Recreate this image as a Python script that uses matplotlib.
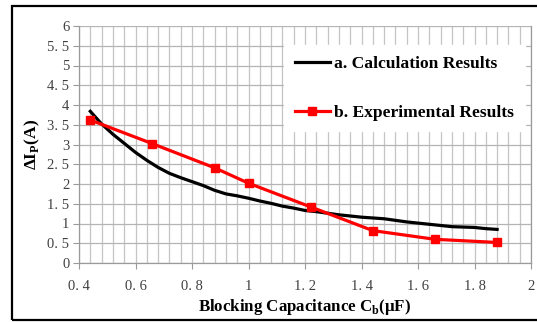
import matplotlib.pyplot as plt
from matplotlib.ticker import MultipleLocator, FuncFormatter
from matplotlib.patches import Rectangle

plt.rcParams['font.family'] = ['Liberation Serif', 'DejaVu Serif']
plt.rcParams['mathtext.fontset'] = 'custom'
plt.rcParams['mathtext.rm'] = 'Liberation Serif:bold'
plt.rcParams['mathtext.bf'] = 'Liberation Serif:bold'

# calculated curve
calc_x = [0.44, 0.48, 0.52, 0.56, 0.60, 0.64, 0.68, 0.72, 0.76, 0.80,
          0.84, 0.88, 0.92, 0.96, 1.00, 1.04, 1.08, 1.12, 1.16, 1.20,
          1.24, 1.28, 1.32, 1.36, 1.40, 1.44, 1.48, 1.52, 1.56, 1.60,
          1.64, 1.68, 1.72, 1.76, 1.80, 1.84, 1.88]
calc_y = [3.84, 3.52, 3.26, 3.03, 2.80, 2.60, 2.42, 2.27, 2.16, 2.06,
          1.96, 1.84, 1.75, 1.70, 1.64, 1.57, 1.51, 1.44, 1.39, 1.33,
          1.30, 1.26, 1.22, 1.19, 1.16, 1.14, 1.12, 1.08, 1.04, 1.01,
          0.98, 0.95, 0.92, 0.91, 0.90, 0.87, 0.85]

# measured points
exp_x = [0.44, 0.66, 0.88, 1.00, 1.22, 1.44, 1.66, 1.88]
exp_y = [3.62, 3.02, 2.41, 2.02, 1.42, 0.82, 0.60, 0.52]

fig = plt.figure(figsize=(5.37, 3.22), dpi=100)
fig.patches.append(Rectangle((12 / 537, 2 / 322), 540 / 537, 314 / 322,
                             transform=fig.transFigure, fill=False,
                             edgecolor='black', linewidth=1.6))

ax = fig.add_axes([79 / 537, 59 / 322, 452 / 537, 237 / 322])
ax.plot(calc_x, calc_y, color='black', linewidth=2.3,
        label='a. Calculation Results', zorder=3)
ax.plot(exp_x, exp_y, color='#ff0000', linewidth=2.3, marker='s',
        markersize=5.5, label='b. Experimental Results', zorder=4)

ax.set_xlim(0.4, 2.0)
ax.set_ylim(0, 6)
ax.xaxis.set_major_locator(MultipleLocator(0.2))
ax.xaxis.set_minor_locator(MultipleLocator(0.04))
ax.yaxis.set_major_locator(MultipleLocator(0.5))


def fmt(v, pos):
    s = '%g' % round(v, 2)
    return s.replace('.', '. ')


ax.xaxis.set_major_formatter(FuncFormatter(fmt))
ax.yaxis.set_major_formatter(FuncFormatter(fmt))

ax.grid(which='both', axis='x', color='#c4c4c4', linewidth=0.9)
ax.grid(which='major', axis='y', color='#b4b4b4', linewidth=0.9)
ax.set_axisbelow(True)
for side in ['left', 'bottom', 'right', 'top']:
    ax.spines[side].set_color('#9a9a9a')
    ax.spines[side].set_linewidth(0.9)
ax.spines['top'].set_visible(False)

ax.tick_params(axis='x', which='major', direction='out', length=4,
               color='#9a9a9a', pad=8, labelsize=10.5, labelcolor='#404040')
ax.tick_params(axis='x', which='minor', length=0)
ax.tick_params(axis='y', direction='out', length=4, color='#9a9a9a',
               pad=3, labelsize=10.5, labelcolor='#404040')

ax.set_xlabel(r'Blocking Capacitance C$_\mathbf{b}$(μF)', fontsize=12.2,
              fontweight='bold', labelpad=3)
ax.set_ylabel(r'ΔI$_\mathbf{P}$(A)', fontsize=12.5, fontweight='bold',
              labelpad=4)

leg = ax.legend(loc='upper right', bbox_to_anchor=(1.005, 0.955),
                frameon=True, fancybox=False, framealpha=1, edgecolor='white',
                prop={'weight': 'bold', 'size': 12.6}, handlelength=2.0,
                handletextpad=0.25, labelspacing=1.85, borderpad=0.6)

fig.savefig('out.png', dpi=100)
